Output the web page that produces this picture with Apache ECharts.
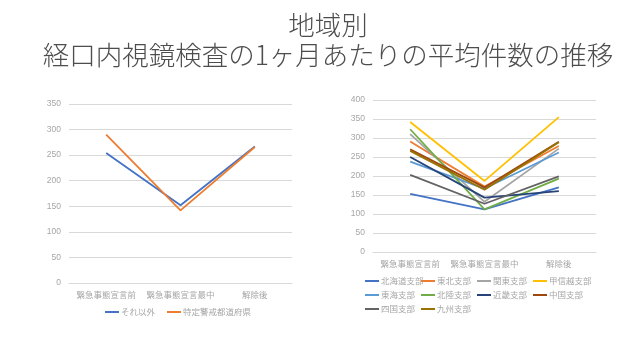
<!DOCTYPE html>
<html><head><meta charset="utf-8">
<script src="https://cdn.jsdelivr.net/npm/echarts@6/dist/echarts.min.js"></script>
<style>html,body{margin:0;padding:0;background:#fff}#c{width:640px;height:360px}</style>
</head><body><div id="c"></div>
<script>
const titleText = "地域別\n経口内視鏡検査の1ヶ月あたりの平均件数の推移";
const categories = ["緊急事態宣言前", "緊急事態宣言最中", "解除後"];
const leftNames = ["それ以外", "特定警戒都道府県"];
const leftValues = [
  [254, 152, 267],
  [290, 142, 266]
];
const leftColors = ["#4472C4", "#ED7D31"];
const rightNames = ["北海道支部", "東北支部", "関東支部", "甲信越支部", "東海支部", "北陸支部", "近畿支部", "中国支部", "四国支部", "九州支部"];
const rightValues = [
  [153, 112, 170],
  [291, 172, 279],
  [310, 132, 272],
  [342, 187, 355],
  [238, 167, 262],
  [323, 112, 193],
  [250, 143, 160],
  [270, 170, 290],
  [203, 127, 199],
  [266, 164, 289]
];
const rightColors = ["#4472C4", "#ED7D31", "#A5A5A5", "#FFC000", "#5B9BD5", "#70AD47", "#264478", "#9E480E", "#636363", "#997300"];

const font = '"Noto Sans CJK JP", "Noto Sans", sans-serif';
const labelColor = '#a6a6a6';
const series = [];
leftNames.forEach((n, i) => series.push({
  name: n, type: 'line', xAxisIndex: 0, yAxisIndex: 0, data: leftValues[i],
  symbol: 'none', lineStyle: {width: 1.8, color: leftColors[i]}, itemStyle: {color: leftColors[i]}
}));
rightNames.forEach((n, i) => series.push({
  name: n, type: 'line', xAxisIndex: 1, yAxisIndex: 1, data: rightValues[i],
  symbol: 'none', lineStyle: {width: 1.8, color: rightColors[i]}, itemStyle: {color: rightColors[i]}
}));

const catAxis = (gi) => ({
  type: 'category', gridIndex: gi, data: categories, boundaryGap: true,
  axisLine: {show: true, lineStyle: {color: '#d9d9d9'}}, axisTick: {show: false},
  axisLabel: {color: labelColor, fontSize: 8.5, fontFamily: font, margin: 8, interval: 0}
});
const valAxis = (gi, max) => ({
  type: 'value', gridIndex: gi, min: 0, max: max, interval: 50,
  axisLine: {show: false}, axisTick: {show: false},
  splitLine: {lineStyle: {color: '#d9d9d9', width: 1}},
  axisLabel: {color: labelColor, fontSize: 8.5, fontFamily: 'Liberation Sans, sans-serif', margin: 8}
});

const legendText = {color: labelColor, fontSize: 8.5, fontFamily: font, padding: [0,0,0,-3], lineHeight: 12};
const colX = [365, 421, 477, 533];
const rightLegends = colX.map((x, c) => ({
  data: rightNames.filter((n, i) => i % 4 === c),
  left: x, top: 275, orient: 'vertical', padding: 0,
  icon: 'rect', itemWidth: 14, itemHeight: 2, itemGap: 2,
  textStyle: legendText
}));

const chart = echarts.init(document.getElementById('c'), null, {renderer: 'canvas'});
chart.setOption({
  animation: false,
  backgroundColor: '#fff',
  title: {
    text: titleText, left: 323, top: 5, textAlign: 'center',
    textStyle: {fontSize: 26.5, lineHeight: 30, fontWeight: 300, color: '#4d4d4d', fontFamily: font, align: 'center'}
  },
  grid: [
    {left: 69, top: 104, width: 223, height: 179},
    {left: 373, top: 100, width: 223, height: 152}
  ],
  xAxis: [catAxis(0), catAxis(1)],
  yAxis: [valAxis(0, 350), valAxis(1, 400)],
  legend: [
    {
      data: leftNames, left: 105, top: 306, padding: 0, icon: 'rect', itemWidth: 14, itemHeight: 2, itemGap: 12,
      textStyle: legendText
    }
  ].concat(rightLegends),
  series: series
});
</script></body></html>
